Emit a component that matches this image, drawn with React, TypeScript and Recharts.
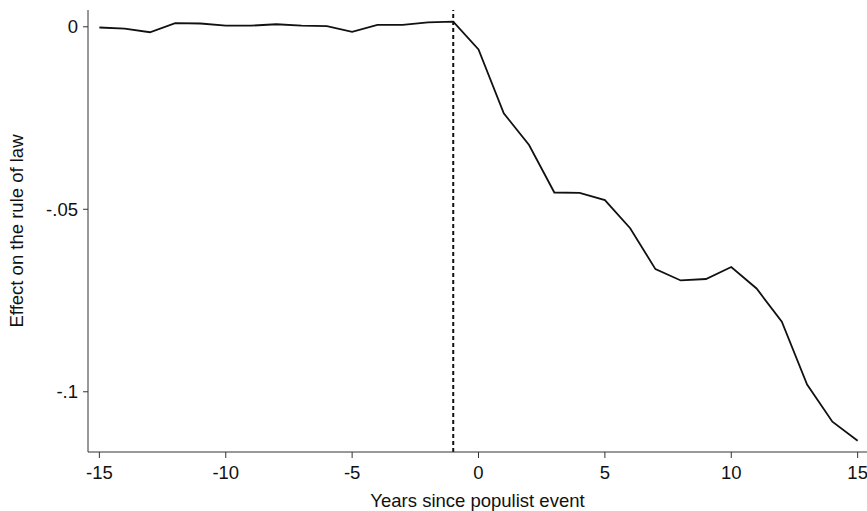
import { LineChart, Line, XAxis, YAxis, ReferenceLine } from "recharts";

// years relative to the populist event
const years = [-15, -14, -13, -12, -11, -10, -9, -8, -7, -6, -5, -4, -3, -2, -1, 0, 1, 2, 3, 4, 5, 6, 7, 8, 9, 10, 11, 12, 13, 14, 15];
// estimated effect on the rule of law
const effect = [
  -0.0002, -0.0005, -0.0015, 0.001, 0.0009, 0.0003, 0.0003, 0.0007, 0.0003, 0.0002, -0.0014,
  0.0005, 0.0005, 0.0012, 0.0014, -0.0062, -0.0237, -0.0324, -0.0454, -0.0455, -0.0475,
  -0.0552, -0.0664, -0.0695, -0.0691, -0.0658, -0.0717, -0.0808, -0.098, -0.1082, -0.1134,
];
const xTicks = [-15, -10, -5, 0, 5, 10, 15];
const yTicks = [0, -0.05, -0.1];
const eventLine = -1;

const data = years.map((y, i) => ({ year: y, effect: effect[i] }));

const fmtY = (v: number) => (v === 0 ? "0" : v.toString().replace("0.", "."));

const font = "'Liberation Sans', Arial, sans-serif";
const axisColor = "#333";
const fs = 18.5;

export default function App() {
  return (
    <div style={{ position: "absolute", left: 0, top: 0, background: "#fff" }}>
      <LineChart width={867} height={511} data={data} margin={{ top: 10, right: 0, bottom: 0, left: 0 }}>
        <XAxis
          dataKey="year"
          type="number"
          domain={[-15.45, 15.37]}
          ticks={xTicks}
          allowDataOverflow
          height={59}
          stroke={axisColor}
          tickSize={6}
          tickMargin={8}
          tick={{ fill: "#111", fontSize: fs, fontFamily: font }}
          label={{ value: "Years since populist event", position: "insideBottom", offset: 4, fill: "#111", fontSize: fs, fontFamily: font }}
        />
        <YAxis
          type="number"
          domain={[-0.1165, 0.0046]}
          ticks={yTicks}
          allowDataOverflow
          width={88}
          stroke={axisColor}
          tickSize={5}
          tickMargin={5}
          tickFormatter={fmtY}
          tick={{ fill: "#111", fontSize: fs, fontFamily: font }}
          label={{ value: "Effect on the rule of law", angle: -90, position: "insideLeft", offset: 16, fill: "#111", fontSize: fs, fontFamily: font, style: { textAnchor: "middle" } }}
        />
        <ReferenceLine x={eventLine} stroke="#111" strokeWidth={2} strokeDasharray="4 3" />
        <Line
          type="linear"
          dataKey="effect"
          stroke="#111"
          strokeWidth={1.8}
          dot={false}
          isAnimationActive={false}
        />
      </LineChart>
    </div>
  );
}
